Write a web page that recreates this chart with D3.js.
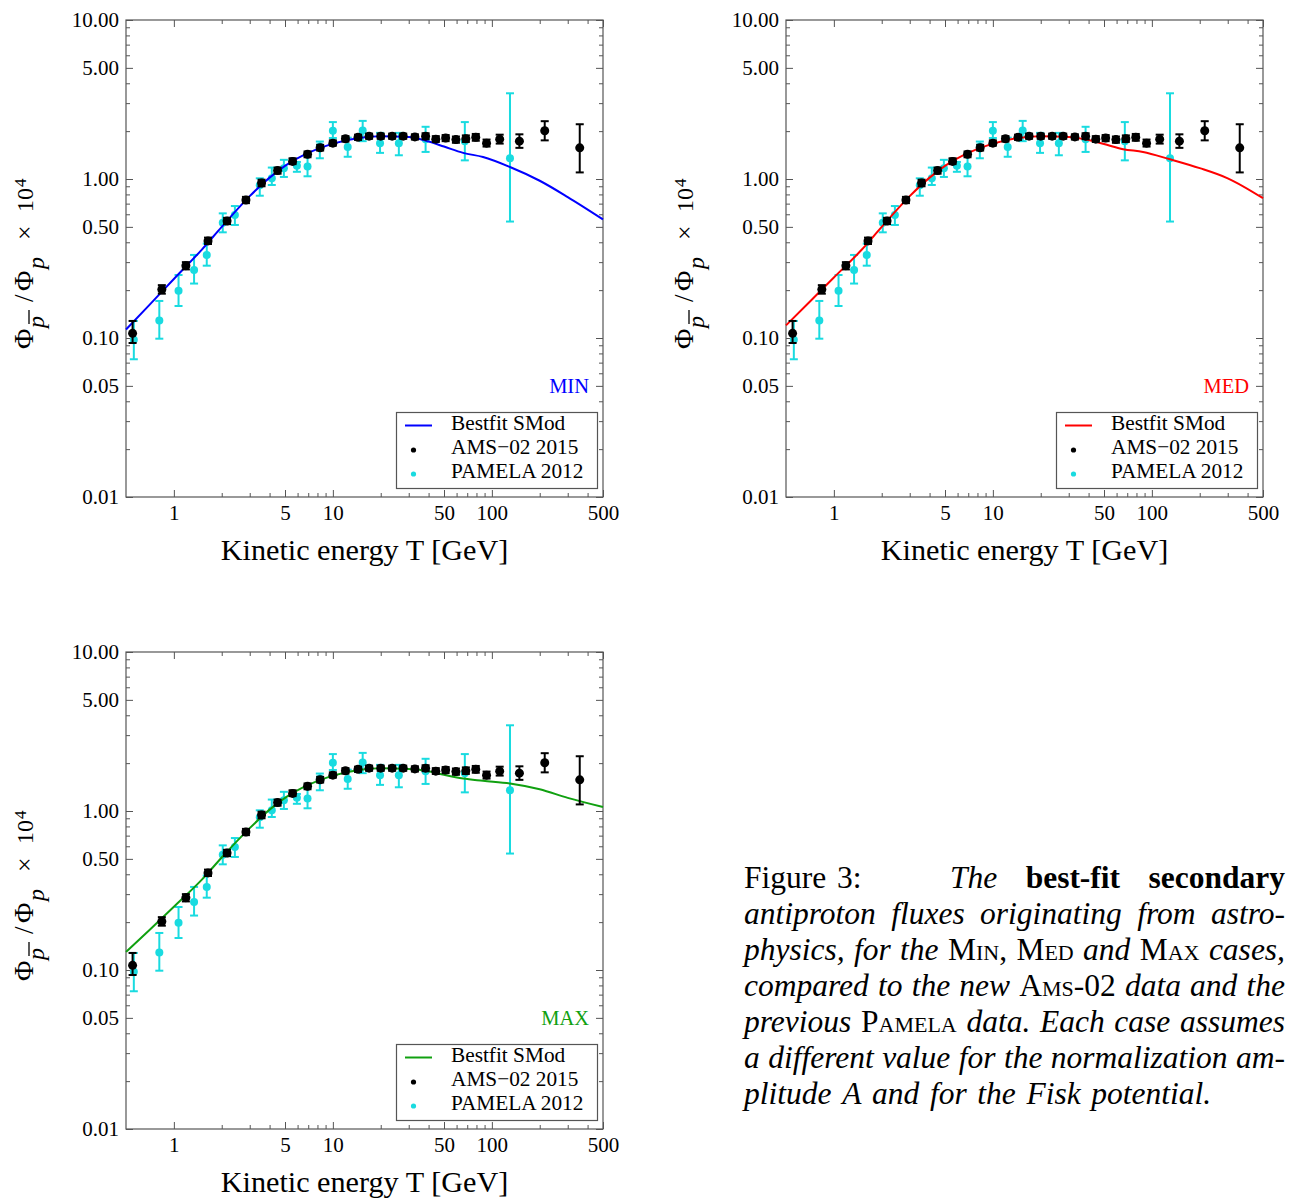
<!DOCTYPE html>
<html><head><meta charset="utf-8">
<script src="https://cdn.jsdelivr.net/npm/d3@7"></script>
<style>body{margin:0;background:#fff}svg{display:block}</style>
</head><body>
<svg id="c" width="1289" height="1200"></svg>
<script>
// ---------- data ----------
const amsT  = [0.55,0.84,1.19,1.64,2.16,2.84,3.56,4.49,5.58,6.93,8.32,10.0,12.0,14.4,16.9,20.0,23.6,27.7,32.8,38.3,44.4,51.2,59.4,68.6,79.2,92.6,112,149,215,357];
const amsV  = [0.107,0.202,0.285,0.408,0.544,0.738,0.944,1.13,1.29,1.43,1.57,1.68,1.79,1.83,1.86,1.86,1.86,1.86,1.84,1.86,1.78,1.81,1.77,1.79,1.83,1.68,1.78,1.73,2.01,1.57];
const amsLo = [0.093,0.190,0.270,0.390,0.520,0.705,0.900,1.08,1.24,1.37,1.51,1.62,1.72,1.76,1.79,1.79,1.79,1.79,1.77,1.78,1.71,1.73,1.69,1.71,1.74,1.60,1.67,1.57,1.75,1.10];
const amsHi = [0.128,0.215,0.300,0.428,0.570,0.772,0.990,1.18,1.35,1.49,1.64,1.75,1.86,1.90,1.93,1.93,1.93,1.93,1.91,1.94,1.86,1.89,1.85,1.88,1.92,1.77,1.90,1.91,2.31,2.21];

const pamT  = [0.56,0.81,1.07,1.34,1.61,2.03,2.42,3.47,4.13,4.92,5.94,6.93,8.28,10.0,12.4,15.4,19.8,26.0,38.3,67.6,130];
const pamV  = [0.0975,0.129,0.198,0.268,0.333,0.531,0.594,0.913,1.01,1.17,1.21,1.20,1.60,2.01,1.59,2.02,1.68,1.68,1.78,1.73,1.35];
const pamLo = [0.0735,0.099,0.159,0.220,0.285,0.462,0.514,0.785,0.917,1.03,1.11,1.04,1.35,1.81,1.38,1.73,1.46,1.41,1.48,1.31,0.54];
const pamHi = [0.128,0.171,0.249,0.333,0.392,0.608,0.676,1.01,1.18,1.32,1.28,1.40,1.72,2.28,1.82,2.32,1.95,1.95,2.13,2.28,3.46];

const curveT = [0.5,0.7,1,1.5,2,3,4,5,7,10,15,20,30,40,50,66,88,130,200,300,500];
const minV   = [0.113,0.161,0.235,0.36,0.50,0.78,1.02,1.21,1.46,1.67,1.82,1.86,1.84,1.72,1.60,1.46,1.375,1.19,0.975,0.77,0.557];
const medV   = [0.120,0.168,0.24,0.36,0.50,0.78,1.02,1.21,1.46,1.67,1.82,1.86,1.84,1.76,1.66,1.54,1.48,1.33,1.17,1.01,0.757];
const maxV   = [0.130,0.178,0.25,0.37,0.51,0.78,1.02,1.21,1.46,1.67,1.82,1.86,1.84,1.78,1.69,1.60,1.55,1.49,1.37,1.21,1.06];

const yTickValues = [10,5,1,0.5,0.1,0.05,0.01];
const yTickLabels = ["10.00","5.00","1.00","0.50","0.10","0.05","0.01"];
const xTickValues = [1,5,10,50,100,500];
const xTickLabels = ["1","5","10","50","100","500"];
const legendLabels = ["Bestfit SMod","AMS\u221202 2015","PAMELA 2012"];
const caseNames = ["MIN","MED","MAX"];
const xTitle = "Kinetic energy T [GeV]";

// ---------- layout / styles ----------
const panels = [
  {dx:0,   dy:0,   color:"#0000ff", values:minV, name:caseNames[0]},
  {dx:660, dy:0,   color:"#ff0000", values:medV, name:caseNames[1]},
  {dx:0,   dy:632, color:"#10a010", values:maxV, name:caseNames[2]}
];
const CYAN = "#19dbe0";
const FONT = "'Liberation Serif','Times New Roman',serif";
const svg = d3.select("#c");

const x = d3.scaleLog().domain([0.5,500]).range([126,603]);
const y = d3.scaleLog().domain([0.01,10]).range([497,20]);

const minorX = [], minorY = [];
[0.01,0.1,1].forEach(d=>[2,3,4,6,7,8,9].forEach(m=>minorY.push(m*d)));
[1,10,100].forEach(d=>[2,3,4,6,7,8,9].forEach(m=>{const v=m*d; if(v<500) minorX.push(v);}));

function styleAxis(g){
  g.select(".domain").remove();
  g.selectAll(".tick line").attr("stroke","#555").attr("stroke-width",1);
  g.selectAll(".tick text").attr("font-family",FONT).attr("font-size",21).attr("fill","#000");
}

panels.forEach(p=>{
  const g = svg.append("g").attr("transform",`translate(${p.dx},${p.dy})`);

  const yMaj = g.append("g").attr("transform",`translate(${x.range()[0]},0)`)
    .call(d3.axisLeft(y).tickValues(yTickValues).tickSize(-7).tickPadding(7)
      .tickFormat((d,i)=>yTickLabels[i]));
  styleAxis(yMaj);
  const yMin = g.append("g").attr("transform",`translate(${x.range()[0]},0)`)
    .call(d3.axisLeft(y).tickValues(minorY).tickSize(-4).tickFormat(""));
  styleAxis(yMin);
  const yR = g.append("g").attr("transform",`translate(${x.range()[1]},0)`)
    .call(d3.axisRight(y).tickValues(yTickValues).tickSize(-7).tickFormat(""));
  styleAxis(yR);
  const yRm = g.append("g").attr("transform",`translate(${x.range()[1]},0)`)
    .call(d3.axisRight(y).tickValues(minorY).tickSize(-4).tickFormat(""));
  styleAxis(yRm);

  const xMaj = g.append("g").attr("transform",`translate(0,${y.range()[0]})`)
    .call(d3.axisBottom(x).tickValues(xTickValues).tickSize(-7).tickPadding(8)
      .tickFormat((d,i)=>xTickLabels[i]));
  styleAxis(xMaj);
  const xMin = g.append("g").attr("transform",`translate(0,${y.range()[0]})`)
    .call(d3.axisBottom(x).tickValues(minorX).tickSize(-4).tickFormat(""));
  styleAxis(xMin);
  const xT = g.append("g").attr("transform",`translate(0,${y.range()[1]})`)
    .call(d3.axisTop(x).tickValues(xTickValues).tickSize(-7).tickFormat(""));
  styleAxis(xT);
  const xTm = g.append("g").attr("transform",`translate(0,${y.range()[1]})`)
    .call(d3.axisTop(x).tickValues(minorX).tickSize(-4).tickFormat(""));
  styleAxis(xTm);

  g.append("rect").attr("x",x.range()[0]).attr("y",y.range()[1])
    .attr("width",x.range()[1]-x.range()[0]).attr("height",y.range()[0]-y.range()[1])
    .attr("fill","none").attr("stroke","#555").attr("stroke-width",1.2);

  // PAMELA
  const pam = pamT.map((t,i)=>({t,v:pamV[i],lo:pamLo[i],hi:pamHi[i]}));
  const pg = g.append("g");
  pg.selectAll("line.bar").data(pam).join("line").attr("class","bar")
    .attr("x1",d=>x(d.t)).attr("x2",d=>x(d.t)).attr("y1",d=>y(d.lo)).attr("y2",d=>y(d.hi))
    .attr("stroke",CYAN).attr("stroke-width",2);
  pg.selectAll("line.capl").data(pam).join("line").attr("class","capl")
    .attr("x1",d=>x(d.t)-4).attr("x2",d=>x(d.t)+4).attr("y1",d=>y(d.lo)).attr("y2",d=>y(d.lo))
    .attr("stroke",CYAN).attr("stroke-width",2);
  pg.selectAll("line.caph").data(pam).join("line").attr("class","caph")
    .attr("x1",d=>x(d.t)-4).attr("x2",d=>x(d.t)+4).attr("y1",d=>y(d.hi)).attr("y2",d=>y(d.hi))
    .attr("stroke",CYAN).attr("stroke-width",2);
  pg.selectAll("circle").data(pam).join("circle")
    .attr("cx",d=>x(d.t)).attr("cy",d=>y(d.v)).attr("r",4).attr("fill",CYAN);

  // curve
  const cd = curveT.map((t,i)=>({t,v:p.values[i]}));
  g.append("path").datum(cd)
    .attr("d",d3.line().x(d=>x(d.t)).y(d=>y(d.v)).curve(d3.curveMonotoneX))
    .attr("fill","none").attr("stroke",p.color).attr("stroke-width",2);

  // AMS
  const ams = amsT.map((t,i)=>({t,v:amsV[i],lo:amsLo[i],hi:amsHi[i]}));
  const ag = g.append("g");
  ag.selectAll("line.bar").data(ams).join("line").attr("class","bar")
    .attr("x1",d=>x(d.t)).attr("x2",d=>x(d.t)).attr("y1",d=>y(d.lo)).attr("y2",d=>y(d.hi))
    .attr("stroke","#000").attr("stroke-width",2);
  ag.selectAll("line.capl").data(ams).join("line").attr("class","capl")
    .attr("x1",d=>x(d.t)-4).attr("x2",d=>x(d.t)+4).attr("y1",d=>y(d.lo)).attr("y2",d=>y(d.lo))
    .attr("stroke","#000").attr("stroke-width",2);
  ag.selectAll("line.caph").data(ams).join("line").attr("class","caph")
    .attr("x1",d=>x(d.t)-4).attr("x2",d=>x(d.t)+4).attr("y1",d=>y(d.hi)).attr("y2",d=>y(d.hi))
    .attr("stroke","#000").attr("stroke-width",2);
  ag.selectAll("circle").data(ams).join("circle")
    .attr("cx",d=>x(d.t)).attr("cy",d=>y(d.v)).attr("r",4.5).attr("fill","#000");

  // case label
  g.append("text").attr("x",589).attr("y",392.5).attr("text-anchor","end")
    .attr("font-family",FONT).attr("font-size",20.5).attr("fill",p.color).text(p.name);

  // legend
  const lg = g.append("g");
  lg.append("rect").attr("x",396.5).attr("y",412.5).attr("width",201).attr("height",76)
    .attr("fill","#fff").attr("stroke","#555").attr("stroke-width",1.2);
  lg.append("line").attr("x1",405).attr("x2",432).attr("y1",425.5).attr("y2",425.5)
    .attr("stroke",p.color).attr("stroke-width",2);
  lg.append("circle").attr("cx",413.5).attr("cy",450).attr("r",2.6).attr("fill","#000");
  lg.append("circle").attr("cx",413.5).attr("cy",474).attr("r",2.6).attr("fill",CYAN);
  legendLabels.forEach((t,i)=>{
    lg.append("text").attr("x",451).attr("y",429.5+i*24.2)
      .attr("font-family",FONT).attr("font-size",21.3).attr("fill","#000").text(t);
  });

  // x title
  g.append("text").attr("x",364.5).attr("y",560).attr("text-anchor","middle")
    .attr("font-family",FONT).attr("font-size",30.2).attr("fill","#000").text(xTitle);

  // y title (rotated)
  const yl = g.append("g").attr("transform","translate(33,349) rotate(-90)")
    .attr("font-family",FONT).attr("fill","#000");
  yl.append("text").attr("x",0).attr("y",0).attr("font-size",28).text("\u03A6");
  yl.append("text").attr("x",21).attr("y",11).attr("font-size",24).attr("font-style","italic").text("p");
  yl.append("line").attr("x1",25).attr("x2",39).attr("y1",-4).attr("y2",-4).attr("stroke","#000").attr("stroke-width",1.3);
  yl.append("text").attr("x",47).attr("y",0).attr("font-size",27).text("/");
  yl.append("text").attr("x",58).attr("y",0).attr("font-size",28).text("\u03A6");
  yl.append("text").attr("x",80).attr("y",11).attr("font-size",24).attr("font-style","italic").text("p");
  yl.append("text").attr("x",109).attr("y",0).attr("font-size",26).text("\u00D7");
  yl.append("text").attr("x",137).attr("y",0).attr("font-size",24).text("10");
  yl.append("text").attr("x",162).attr("y",-7).attr("font-size",17).text("4");
});

// ---------- caption ----------
const CAP_FONT = 31.5;
const captionLines = [
  {start:744, justify:false, words:[[["Figure","r"]],[["3:","r"]]]},
  {start:950, justify:true,  words:[[["The","i"]],[["best-fit","b"]],[["secondary","b"]]]},
  {start:744, justify:true,  words:[[["antiproton","i"]],[["fluxes","i"]],[["originating","i"]],[["from","i"]],[["astro-","i"]]]},
  {start:744, justify:true,  words:[[["physics,","i"]],[["for","i"]],[["the","i"]],[["Min","sc"],[",","r"]],[["Med","sc"]],[["and","i"]],[["Max","sc"]],[["cases,","i"]]]},
  {start:744, justify:true,  words:[[["compared","i"]],[["to","i"]],[["the","i"]],[["new","i"]],[["Ams-02","sc"]],[["data","i"]],[["and","i"]],[["the","i"]]]},
  {start:744, justify:true,  words:[[["previous","i"]],[["Pamela","sc"]],[["data.","i"]],[["Each","i"]],[["case","i"]],[["assumes","i"]]]},
  {start:744, justify:true,  words:[[["a","i"]],[["different","i"]],[["value","i"]],[["for","i"]],[["the","i"]],[["normalization","i"]],[["am-","i"]]]},
  {start:744, justify:false, words:[[["plitude","i"]],[["A","i"]],[["and","i"]],[["for","i"]],[["the","i"]],[["Fisk","i"]],[["potential.","i"]]]}
];
const lineBase = [888,888,924,960,996,1032,1068,1104];
const RIGHT = 1285;
const cap = svg.append("g").attr("font-family",FONT).attr("font-size",CAP_FONT).attr("fill","#000");

function addRuns(sel, runs){
  runs.forEach(([t,s])=>{
    const ts = sel.append("tspan").text(t);
    if(s==="i") ts.attr("font-style","italic");
    if(s==="b") ts.attr("font-weight","bold");
    if(s==="sc") ts.style("font-variant","small-caps");
  });
}
const probe = cap.append("text").attr("x",0).attr("y",-100).text("a a");
const probe2 = cap.append("text").attr("x",0).attr("y",-100).text("aa");
const spaceW = probe.node().getComputedTextLength()-probe2.node().getComputedTextLength();
probe.remove(); probe2.remove();

captionLines.forEach((ln,li)=>{
  const widths = ln.words.map(w=>{
    const t = cap.append("text").attr("x",0).attr("y",-100);
    addRuns(t,w);
    const wd = t.node().getComputedTextLength();
    t.remove();
    return wd;
  });
  const total = d3.sum(widths);
  const gap = ln.justify ? (RIGHT-ln.start-total)/(ln.words.length-1) : spaceW*1.35;
  let cx = ln.start;
  ln.words.forEach((w,i)=>{
    const t = cap.append("text").attr("x",cx).attr("y",lineBase[li]);
    addRuns(t,w);
    cx += widths[i]+gap;
  });
});
</script>
</body></html>
